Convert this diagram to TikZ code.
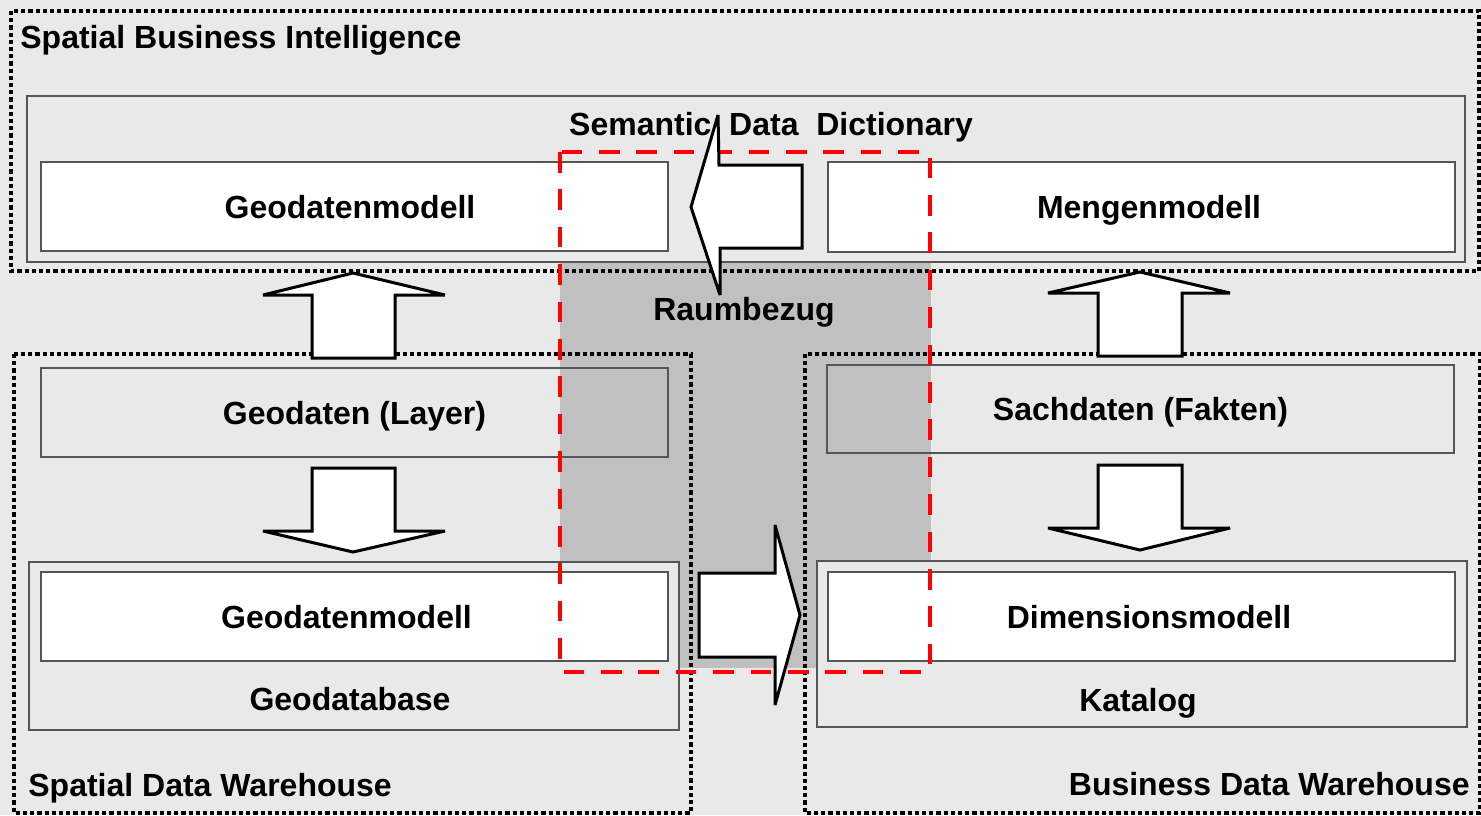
\documentclass[tikz,border=0pt]{standalone}
\usepackage{fontspec}
\setmainfont{Liberation Sans}
\definecolor{bgcol}{HTML}{E9E9E9}
\definecolor{shadecol}{HTML}{C0C0C0}
\definecolor{edgecol}{HTML}{555555}
\tikzset{
  region/.style={line width=2.1pt, dash pattern=on 2.1pt off 1.5pt},
  panel/.style={draw=edgecol, line width=0.7pt, inner sep=0pt, outer sep=0pt,
    text height=11.5pt, text depth=0pt, minimum width=#1},
  panel/.default=313.5pt,
  blockarrow/.style={draw=black, fill=white, line width=1.5pt, miter limit=5},
  lbl/.style={inner sep=0pt, text height=11.5pt, text depth=0pt}
}
\begin{document}
\begin{tikzpicture}[x=0.5pt, y=-0.5pt, every node/.style={font=\fontsize{16}{19}\selectfont\bfseries}]
  \path[use as bounding box, fill=bgcol] (0,0) rectangle (1481,815);
  \fill[shadecol] (560,263) rectangle (931,668);
  \draw[region] (11,11) rectangle (1479,271);
  \draw[region] (14,354) rectangle (691,813);
  \draw[region] (805,354) rectangle (1480,813);

  \node[panel=719pt, minimum height=83pt, fill=bgcol] (sdd) at (746,179) {};
  \node[panel, minimum height=44.5pt, fill=white] (geoTop) at (354.5,206.5) {Geodatenmodell\kern4.5pt};
  \node[panel, minimum height=45pt, fill=white] (mengen) at (1141.5,207) {\kern7.5pt Mengenmodell};
  \node[panel, minimum height=44.5pt] (layer) at (354.5,412.5) {Geodaten (Layer)};
  \node[panel, minimum height=44pt] (fakten) at (1140.5,409) {Sachdaten (Fakten)};
  \node[panel=325pt, minimum height=84pt, fill=bgcol] (gdb) at (354,646) {};
  \node[panel, minimum height=44.5pt, fill=white] (geoBot) at (354.5,616.5) {Geodatenmodell\kern8pt};
  \node[panel=325pt, minimum height=83pt, fill=bgcol] (katalog) at (1142,644) {};
  \node[panel, minimum height=44.5pt, fill=white] (dimension) at (1141.5,616.5) {\kern7.5pt Dimensionsmodell};

  \node[lbl, anchor=west] (sbiText) at (20,36.5) {Spatial Business Intelligence};
  \node[lbl] (sddText) at (771,124) {Semantic~~Data~~Dictionary};
  \node[lbl] (raumText) at (744,309) {Raumbezug};
  \node[lbl] (gdbText) at (350,699) {Geodatabase};
  \node[lbl] (katText) at (1138,700) {Katalog};
  \node[lbl, anchor=west] (sdwText) at (28,785) {Spatial Data Warehouse};
  \node[lbl, anchor=east] (bdwText) at (1470,784) {Business Data Warehouse};

  \draw[red, line width=2pt, dash pattern=on 10.3pt off 8.4pt] (560,152) rectangle (930,672);

  \draw[blockarrow] (802,165) -- (719,165) -- (718,115) -- (691,207) -- (720,295) -- (720,248) -- (802,248) -- cycle;
  \draw[blockarrow] (699,573) -- (775,573) -- (775,525) -- (800,615) -- (775,705) -- (775,657) -- (699,657) -- cycle;
  \draw[blockarrow] (312,358) -- (312,295) -- (263,295) -- (353,273) -- (445,295) -- (395,295) -- (395,358) -- cycle;
  \draw[blockarrow] (312,468) -- (395,468) -- (395,531) -- (445,531) -- (353,552) -- (263,531) -- (312,531) -- cycle;
  \draw[blockarrow] (1098,356) -- (1098,293) -- (1048,293) -- (1140,272) -- (1230,293) -- (1182,293) -- (1182,356) -- cycle;
  \draw[blockarrow] (1098,465) -- (1182,465) -- (1182,528) -- (1230,528) -- (1140,550) -- (1048,528) -- (1098,528) -- cycle;
\end{tikzpicture}
\end{document}
